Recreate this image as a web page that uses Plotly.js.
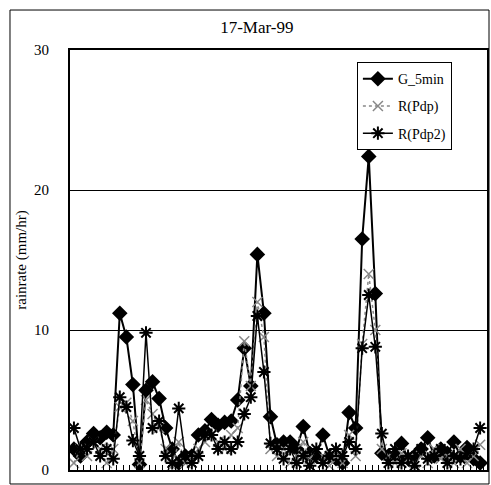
<!DOCTYPE html>
<html>
<head>
<meta charset="utf-8">
<script src="https://cdn.plot.ly/plotly-3.0.1.min.js"></script>
<style>html,body{margin:0;padding:0;background:#fff;}#chart{width:491px;height:485px;}</style>
</head>
<body>
<div id="chart"></div>
<script>
// 5-minute sample index (63 samples)
const sampleIndex = Array.from({length: 63}, (_, i) => i);

const seriesNames = ["G_5min", "R(Pdp)", "R(Pdp2)"];

const g5min = [1.5, 1.0, 2.0, 2.6, 2.3, 2.7, 2.5, 11.2, 9.5, 6.1,
               0.4, 5.7, 6.3, 5.1, 3.0, 1.5, 0.5, 1.0, 1.0, 2.5,
               2.8, 3.6, 3.2, 3.4, 3.5, 5.0, 8.7, 6.0, 15.4, 11.2,
               3.8, 1.8, 2.0, 2.0, 1.5, 3.1, 1.2, 1.0, 2.5, 1.0,
               0.8, 0.5, 4.1, 3.0, 16.5, 22.4, 12.6, 1.2, 1.0, 1.0,
               1.9, 0.8, 1.0, 1.5, 2.3, 1.0, 1.5, 1.2, 2.0, 1.0,
               1.6, 0.8, 0.5];

const rPdp = [0.5, 1.5, 1.0, 2.0, 1.5, 0.5, 1.5, 4.5, 4.8, 3.5,
              0.5, 5.0, 4.0, 3.0, 1.5, 0.3, 2.0, 0.5, 0.8, 1.5,
              2.0, 2.5, 2.0, 1.5, 2.5, 3.0, 9.2, 6.0, 12.0, 9.5,
              1.5, 1.0, 1.5, 0.5, 1.0, 2.0, 0.8, 1.5, 1.0, 0.3,
              1.0, 0.5, 2.5, 1.0, 9.0, 14.0, 10.0, 1.5, 1.0, 0.5,
              1.2, 0.8, 0.5, 1.0, 0.5, 1.5, 0.8, 1.0, 0.5, 1.5,
              0.5, 1.0, 1.8];

const rPdp2 = [3.0, 1.5, 1.5, 2.0, 1.0, 1.5, 0.8, 5.2, 4.5, 2.1,
               1.0, 9.8, 3.0, 3.5, 1.0, 0.5, 4.4, 1.0, 0.5, 1.0,
               2.5, 2.5, 1.5, 2.0, 1.5, 2.0, 4.0, 5.2, 11.0, 7.0,
               1.9, 1.5, 0.8, 1.5, 0.5, 1.0, 0.3, 1.5, 0.5, 1.0,
               1.5, 1.0, 2.0, 1.5, 8.7, 12.5, 8.8, 2.6, 0.5, 1.5,
               0.5, 1.0, 0.3, 1.5, 0.8, 1.0, 1.5, 0.5, 1.0, 0.8,
               1.2, 1.5, 3.0];

const yTickVals = [0, 10, 20, 30];
const yTickText = ["0", "10", "20", "30"];

const serif = "Liberation Serif, Times New Roman, serif";

const traces = [
  {
    x: sampleIndex, y: g5min, name: seriesNames[0], type: "scatter", mode: "lines+markers",
    legendgroup: "a",
    line: {color: "#000", width: 2},
    marker: {symbol: "diamond", size: 12, color: "#000"}
  },
  {
    x: sampleIndex, y: rPdp, name: seriesNames[1], type: "scatter", mode: "lines+markers",
    legendgroup: "b",
    line: {color: "#888", width: 1.5, dash: "dot"},
    marker: {symbol: "x-thin-open", size: 10, line: {color: "#999", width: 1.5}}
  },
  {
    x: sampleIndex, y: rPdp2, name: seriesNames[2], type: "scatter", mode: "lines+markers",
    legendgroup: "c",
    line: {color: "#000", width: 1.5},
    marker: {symbol: "asterisk-open", size: 11, line: {color: "#000", width: 2}}
  }
];

const layout = {
  width: 491, height: 485,
  margin: {l: 70, r: 4, t: 50, b: 15},
  paper_bgcolor: "#fff", plot_bgcolor: "#fff",
  font: {family: serif, color: "#000", size: 14},
  showlegend: true,
  title: {
    text: "17-Mar-99", font: {family: serif, size: 17, color: "#000"},
    xref: "paper", x: 0.448, xanchor: "center",
    yref: "container", y: 0.944, yanchor: "middle"
  },
  xaxis: {
    range: [-0.6, 63.05], showgrid: false, zeroline: false,
    showline: true, mirror: true, linecolor: "#000", linewidth: 2,
    ticks: "inside", ticklen: 5, tickcolor: "#000", tickwidth: 1,
    tick0: -0.5, dtick: 1, showticklabels: false
  },
  yaxis: {
    range: [0, 30], tickvals: yTickVals, ticktext: yTickText,
    showgrid: true, gridcolor: "#000", gridwidth: 1, zeroline: false,
    showline: true, mirror: true, linecolor: "#000", linewidth: 2,
    ticks: "", ticklabelstandoff: 16,
    tickfont: {family: serif, size: 15, color: "#000"},
    title: {text: "rainrate (mm/hr)", font: {family: serif, size: 15, color: "#000"}, standoff: 4}
  },
  legend: {
    x: 0.688, xanchor: "left", y: 0.971, yanchor: "top",
    bgcolor: "#fff", bordercolor: "#000", borderwidth: 1,
    font: {family: serif, size: 14, color: "#000"},
    traceorder: "grouped", tracegroupgap: 6
  },
  shapes: [
    {type: "rect", xref: "paper", yref: "paper",
     x0: -0.1439, x1: 1.0048, y0: -0.0333, y1: 1.0952,
     line: {color: "#000", width: 1}, fillcolor: "rgba(0,0,0,0)", layer: "below"}
  ]
};

Plotly.newPlot("chart", traces, layout, {displayModeBar: false, staticPlot: true});
</script>
</body>
</html>
